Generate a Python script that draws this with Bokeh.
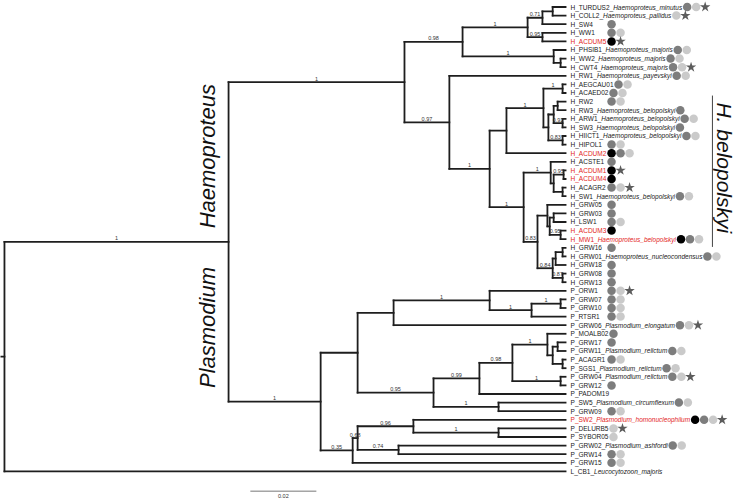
import math
from bokeh.plotting import figure
from bokeh.models import Range1d
from bokeh.core.properties import value
from bokeh.embed import file_html
from bokeh.resources import INLINE

# ---------------- data ----------------
node_names = ["root", "HP", "HAEMO", "A", "A1", "A1a", "TC", "A1b", "A2", "WC",
              "B", "C", "F", "D", "AA", "G", "G2", "RR", "AS", "HH",
              "E", "H", "H1", "H2", "H3", "I", "J", "J1", "J2", "J3",
              "K", "K1p", "K1", "K3", "PLAS", "P1", "P1a", "P1a1", "P1a1b", "GG",
              "P1b", "P1b1", "P1b1a", "P1b1a1", "M1", "M2", "M3", "P1b1a2", "P1b2",
              "P2", "P2a", "P2a1", "DS", "P2a2"]
node_parents = [None, "root", "HP", "HAEMO", "A", "A1", "A1a", "A1", "A", "A2",
                "HAEMO", "B", "C", "F", "D", "D", "G", "G2", "G2", "G",
                "C", "E", "H", "H1", "H1", "E", "I", "J", "J1", "J1",
                "I", "K", "K1p", "K", "HP", "PLAS", "P1", "P1a", "P1a1", "P1a1b",
                "P1", "P1b", "P1b1", "P1b1a", "P1b1a1", "M1", "M1", "P1b1a", "P1b",
                "PLAS", "P2", "P2a", "P2a1", "P2a"]
node_depths = [0.0, 0.0679, 0.1212, 0.1388, 0.1585, 0.1630, 0.1661, 0.1630, 0.1664, 0.1685,
               0.1348, 0.1470, 0.1521, 0.1633, 0.1691, 0.1648, 0.1664, 0.1676, 0.1691, 0.1691,
               0.1573, 0.1655, 0.1664, 0.1694, 0.1691, 0.1615, 0.1645, 0.1652, 0.1664, 0.1685,
               0.1661, 0.1670, 0.1691, 0.1691, 0.0958, 0.1070, 0.1179, 0.1470, 0.1597, 0.1685,
               0.1300, 0.1439, 0.1539, 0.1645, 0.1661, 0.1676, 0.1691, 0.1685, 0.1497,
               0.1055, 0.1070, 0.1239, 0.1497, 0.1194]
node_support = ["", "1", "1", "0.98", "1", "0.71", "", "0.95", "1", "",
                "0.97", "1", "", "1", "1", "", "", "", "0.92", "0.83",
                "1", "1", "", "0.95", "", "0.83", "", "", "", "0.95",
                "0.84", "", "", "0.87", "1", "", "", "1", "1", "1",
                "0.95", "0.99", "0.98", "1", "", "", "", "1", "1",
                "0.35", "0.68", "0.96", "1", "0.74"]

tip_codes = ["H_TURDUS2", "H_COLL2", "H_SW4", "H_WW1", "H_ACDUM5", "H_PHSIB1", "H_WW2", "H_CWT4",
             "H_RW1", "H_AEGCAU01", "H_ACAED02", "H_RW2", "H_RW3", "H_ARW1", "H_SW3", "H_HIICT1",
             "H_HIPOL1", "H_ACDUM2", "H_ACSTE1", "H_ACDUM1", "H_ACDUM4", "H_ACAGR2", "H_SW1",
             "H_GRW05", "H_GRW03", "H_LSW1", "H_ACDUM3", "H_MW1", "H_GRW16", "H_GRW01", "H_GRW18",
             "H_GRW08", "H_GRW13", "P_ORW1", "P_GRW07", "P_GRW10", "P_RTSR1", "P_GRW06",
             "P_MOALB02", "P_GRW17", "P_GRW11", "P_ACAGR1", "P_SGS1", "P_GRW04", "P_GRW12",
             "P_PADOM19", "P_SW5", "P_GRW09", "P_SW2", "P_DELURB5", "P_SYBOR05", "P_GRW02",
             "P_GRW14", "P_GRW15", "L_CB1"]
tip_species = ["Haemoproteus_minutus", "Haemoproteus_pallidus", "", "", "", "Haemoproteus_majoris",
               "Haemoproteus_majoris", "Haemoproteus_majoris", "Haemoproteus_payevskyi", "", "", "",
               "Haemoproteus_belopolskyi", "Haemoproteus_belopolskyi", "Haemoproteus_belopolskyi",
               "Haemoproteus_belopolskyi", "", "", "", "", "", "", "Haemoproteus_belopolskyi",
               "", "", "", "", "Haemoproteus_belopolskyi", "", "Haemoproteus_nucleocondensus", "",
               "", "", "", "", "", "", "Plasmodium_elongatum",
               "", "", "Plasmodium_relictum", "", "Plasmodium_relictum", "Plasmodium_relictum", "",
               "", "Plasmodium_circumflexum", "", "Plasmodium_homonucleophilum", "", "",
               "Plasmodium_ashfordi", "", "", "Leucocytozoon_majoris"]
tip_parents = ["TC", "TC", "A1a", "A1b", "A1b", "A2", "WC", "WC", "B", "AA", "AA", "RR", "RR",
               "AS", "AS", "HH", "HH", "F", "H", "H2", "H2", "H3", "H3", "J", "J2", "J2", "J3",
               "J3", "K1", "K1", "K1p", "K3", "K3", "P1a1", "GG", "GG", "P1a1b", "P1a",
               "P1b1a1", "M2", "M2", "M3", "M3", "P1b1a2", "P1b1a2", "P1b1", "P1b2", "P1b2",
               "P2a1", "DS", "DS", "P2a2", "P2a2", "P2", "root"]
tip_red = ["H_ACDUM5", "H_ACDUM2", "H_ACDUM1", "H_ACDUM4", "H_ACDUM3", "H_MW1", "P_SW2"]
# B = black circle, D = dark grey circle, L = light grey circle, * = star
tip_marks = ["DL*", "L*", "D", "DL", "B*", "DL", "DL", "DL*", "DL", "DL", "DL", "DL", "D", "DL",
             "D", "DL", "DL", "BDL", "D", "B*", "B", "DL*", "DL", "D", "D", "DL", "B", "BDL",
             "D", "DL", "D", "D", "D", "DL*", "DL", "DL", "DL", "DL*", "D", "D", "DL", "DL",
             "DL", "DL*", "D", "", "DL", "DL", "BDL*", "L*", "L", "DL", "DL", "DL", ""]
tip_depth = 0.1700
scale_length = 0.02
scale_label = "0.02"
clade_labels = ["Haemoproteus", "Plasmodium"]
group_label = "H. belopolskyi"

# ---------------- layout ----------------
W, H = 738, 499
X0, X1 = -0.0012, 0.2224
Y_TOP, Y_BOT = -0.756, 57.27
px_per_x = W / (X1 - X0)

LABEL_FONT = "Liberation Sans"
LABEL_SIZE = 6.5
SUP_FONT = "Liberation Sans"
LINE_COL = "#1e1e1e"

ARIAL = {}
for ch, w in zip("ABCDEFGHIJKLMNOPQRSTUVWXYZ",
                 [667, 667, 722, 722, 667, 611, 778, 722, 278, 500, 667, 556, 833, 722, 778, 667,
                  778, 722, 667, 611, 722, 667, 944, 667, 667, 611]):
    ARIAL[ch] = w
for ch, w in zip("abcdefghijklmnopqrstuvwxyz",
                 [556, 556, 500, 556, 556, 278, 556, 556, 222, 222, 500, 222, 833, 556, 556, 556,
                  556, 333, 500, 278, 556, 500, 722, 500, 500, 500]):
    ARIAL[ch] = w
for ch in "0123456789_":
    ARIAL[ch] = 556
ARIAL["."] = 278
ARIAL[" "] = 278


def text_w(s, size):
    return sum(ARIAL.get(c, 556) for c in s) * size / 1000.0


depth = dict(zip(node_names, node_depths))
parent = dict(zip(node_names, node_parents))
support = dict(zip(node_names, node_support))
children = {n: [] for n in node_names}
for n, par in zip(node_names, node_parents):
    if par is not None:
        children[par].append(("n", n))
for i, par in enumerate(tip_parents):
    children[par].append(("t", i))

ypos = {}


def gety(kind, key):
    if kind == "t":
        return float(key)
    ys = [gety(k, c) for k, c in children[key]]
    y = (min(ys) + max(ys)) / 2.0
    ypos[key] = (y, min(ys), max(ys))
    return y


gety("n", "root")

p = figure(width=W, height=H, x_range=Range1d(X0, X1), y_range=Range1d(Y_BOT, Y_TOP),
           output_backend="svg", toolbar_location=None, min_border=0)
p.axis.visible = False
p.grid.visible = False
p.outline_line_color = None
p.background_fill_color = "white"

# branches
hx0, hx1, hy = [], [], []
for n in node_names:
    if parent[n] is None:
        continue
    hx0.append(depth[parent[n]]); hx1.append(depth[n]); hy.append(ypos[n][0])
for i, par in enumerate(tip_parents):
    hx0.append(depth[par]); hx1.append(tip_depth); hy.append(float(i))
# root stub
hx0.append(X0); hx1.append(0.0); hy.append(ypos["root"][0])
p.segment(x0=hx0, y0=hy, x1=hx1, y1=hy, line_color=LINE_COL, line_width=1.8, line_cap="square")
vx, vy0, vy1 = [], [], []
for n in node_names:
    vx.append(depth[n]); vy0.append(ypos[n][1]); vy1.append(ypos[n][2])
p.segment(x0=vx, y0=vy0, x1=vx, y1=vy1, line_color=LINE_COL, line_width=1.8, line_cap="square")

# support values
sx, sy, st = [], [], []
for n in node_names:
    if support[n]:
        sx.append((depth[parent[n]] + depth[n]) / 2.0); sy.append(ypos[n][0]); st.append(support[n])
p.text(x=sx, y=sy, text=st, text_font=value(SUP_FONT), text_font_size="5.5px",
       text_align="center", text_baseline="bottom", y_offset=-1.5, text_color="#333333")

# tip labels
cx, cy, ct, cc = [], [], [], []
ix, iy, it, ic, ioff = [], [], [], [], []
mk = {"B": ([], []), "D": ([], []), "L": ([], []), "*": ([], [])}
for i, code in enumerate(tip_codes):
    col = "#e3261e" if code in tip_red else "#1a1a1a"
    sp = tip_species[i]
    part = code + ("_" if sp else "")
    cx.append(tip_depth); cy.append(i); ct.append(part); cc.append(col)
    wtot = text_w(part, LABEL_SIZE)
    if sp:
        ix.append(tip_depth); iy.append(i); it.append(sp); ic.append(col)
        ioff.append(5 + text_w(part, LABEL_SIZE))
        wtot += text_w(sp, LABEL_SIZE)
    off = max(5 + wtot + 5, 46)
    for m in tip_marks[i]:
        mk[m][0].append(tip_depth + off / px_per_x); mk[m][1].append(i)
        off += 9
p.text(x=cx, y=cy, text=ct, text_color=cc, text_font=value(LABEL_FONT),
       text_font_size=f"{LABEL_SIZE}px", text_baseline="middle", x_offset=5)
p.text(x=ix, y=iy, text=it, text_color=ic, text_font=value(LABEL_FONT),
       text_font_size=f"{LABEL_SIZE}px", text_font_style="italic", text_baseline="middle",
       x_offset=ioff)

p.scatter(x=mk["B"][0], y=mk["B"][1], size=8.5, color="#000000", line_color=None)
p.scatter(x=mk["D"][0], y=mk["D"][1], size=8.5, color="#7d7d7d", line_color=None)
p.scatter(x=mk["L"][0], y=mk["L"][1], size=8.5, color="#cacaca", line_color=None)
p.scatter(x=mk["*"][0], y=mk["*"][1], size=11, marker="star", color="#5c5c5c", line_color=None)

# clade labels
p.text(x=[0.0614, 0.0614], y=[17.35, 37.27], text=clade_labels, angle=math.pi / 2,
       text_font=value("Liberation Sans"), text_font_size="22px", text_font_style="italic",
       text_align="center", text_baseline="middle", text_color="#111111")
p.segment(x0=[0.2145], y0=[10.3], x1=[0.2145], y1=[27.9], line_color="#444444", line_width=1)
p.text(x=[0.2183], y=[18.7], text=[group_label], angle=-math.pi / 2,
       text_font=value("Liberation Sans"), text_font_size="21px", text_font_style="italic",
       text_align="center", text_baseline="middle", text_color="#111111")

# scale bar
sb0 = 0.0745
p.segment(x0=[sb0], y0=[56.3], x1=[sb0 + scale_length], y1=[56.3], line_color="#777777",
          line_width=1)
p.text(x=[sb0 + scale_length / 2], y=[56.3], text=[scale_label], text_font=value(SUP_FONT),
       text_font_size="5.5px", text_align="center", text_baseline="top", y_offset=3,
       text_color="#333333")

open("out.html", "w").write(file_html(p, INLINE))
